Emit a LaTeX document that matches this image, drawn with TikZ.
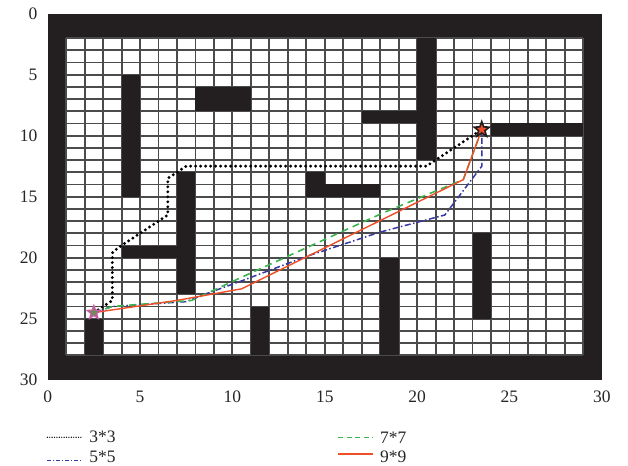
\documentclass[tikz,border=0pt]{standalone}
\usepackage{fontspec}
\setmainfont{Liberation Serif}
\usetikzlibrary{shapes.geometric}
\definecolor{mazeblack}{RGB}{35,31,32}
\definecolor{gridgray}{RGB}{75,75,75}
\definecolor{pathblue}{RGB}{55,55,165}
\definecolor{pathgreen}{RGB}{60,180,80}
\definecolor{pathred}{RGB}{240,80,40}
\definecolor{startpink}{RGB}{205,90,165}
\definecolor{startfill}{RGB}{110,140,90}
\tikzset{
  gridline/.style={draw=gridgray, line width=1.9pt},
  wall/.style={fill=mazeblack},
  ticklabel/.style={font=\fontsize{17.5}{20}\selectfont, inner sep=0pt, text=black!85},
  legtext/.style={font=\fontsize{17.5}{20}\selectfont, inner sep=0pt, anchor=west, text=black!85},
  pthree/.style={draw=black, line width=3.2pt, line cap=round, dash pattern=on 0pt off 5pt},
  pfive/.style={draw=pathblue, line width=1.5pt, dash pattern=on 6pt off 2.5pt on 1.5pt off 2.5pt},
  pseven/.style={draw=pathgreen, line width=1.6pt, dash pattern=on 7pt off 5pt},
  pnine/.style={draw=pathred, line width=1.4pt},
  lthree/.style={draw=black, line width=1.4pt, line cap=round, dash pattern=on 0pt off 2.4pt},
  lfive/.style={draw=pathblue, line width=0.9pt, dash pattern=on 4pt off 2pt on 1pt off 2pt},
  lseven/.style={draw=pathgreen, line width=0.9pt, dash pattern=on 5pt off 3.5pt},
  lnine/.style={draw=pathred, line width=1.8pt},
  marker/.style={star, star points=5, star point ratio=2.4, inner sep=0pt}
}
\begin{document}
\begin{tikzpicture}[x=18.47pt,y=-12.2pt]
\useasboundingbox (-2.583,-1.123) rectangle (31.418,37.07);
% frame and free area
\fill[wall] (0,0) rectangle (30,30);
\fill[white] (1,2) rectangle (29,28);
\foreach \i in {1,...,29} \draw[gridline] (\i,2) -- (\i,28);
\foreach \j in {2,...,28} \draw[gridline] (1,\j) -- (29,\j);
% obstacles
\foreach \xa/\ya/\xb/\yb in {4/5/5/15, 8/6/11/8, 7/13/8/23, 4/19/7/20, 2/25/3/28,
  11/24/12/28, 14/13/15/15, 15/14/18/15, 20/2/21/12, 17/8/20/9, 24/9/29/10,
  18/20/19/28, 23/18/24/25}
  \fill[wall] (\xa,\ya) rectangle (\xb,\yb);
% start and goal
\coordinate (start) at (2.5,24.5);
\coordinate (goal) at (23.5,9.5);
% paths
\draw[pfive] (start) -- (3.5,24.0) -- (7.5,23.6) -- (8.5,23.0) -- (10.5,21.9) -- (14,19.9)
  -- (18,17.9) -- (21.5,16.5) -- (23.5,12.5) -- (goal);
\draw[pseven] (start) -- (3.5,24.0) -- (7.8,23.5) -- (10.5,21.6) -- (18.2,16.3)
  -- (22.5,13.6) -- (goal);
\draw[pnine] (start) -- (7,23.5) -- (10.5,22.55) -- (22.5,13.6) -- (goal);
\draw[pthree] (start) -- (3.5,23.5) -- (3.5,19.6) -- (3.8,19.2) -- (6.5,16.5) -- (6.5,13.5)
  -- (7.5,12.5) -- (20.5,12.5) -- (goal);
\node[marker, minimum size=14pt, draw=startpink, fill=startfill, line width=1.3pt] (startmark) at (start) {};
\node[marker, minimum size=16pt, draw=mazeblack, fill=pathred, line width=1.6pt] (goalmark) at (goal) {};
% axis labels
\foreach \v in {0,5,...,30} \node[ticklabel, anchor=east] (yl\v) at (-0.55,\v) {\v};
\foreach \v in {0,5,...,30} \node[ticklabel] (xl\v) at (\v,31.42) {\v};
% legend
\coordinate (la1) at (-0.02,34.72); \coordinate (lb1) at (1.84,34.72);
\coordinate (la2) at (-0.02,36.58); \coordinate (lb2) at (1.84,36.58);
\coordinate (la3) at (15.73,34.72); \coordinate (lb3) at (17.63,34.72);
\coordinate (la4) at (15.73,36.11); \coordinate (lb4) at (17.63,36.11);
\draw[lthree] (la1) -- (lb1);
\draw[lfive] (la2) -- (lb2);
\draw[lseven] (la3) -- (lb3);
\draw[lnine] (la4) -- (lb4);
\node[legtext] (t1) at (2.25,34.72) {3*3};
\node[legtext] (t2) at (2.25,36.34) {5*5};
\node[legtext] (t3) at (17.99,34.72) {7*7};
\node[legtext] (t4) at (17.99,36.34) {9*9};
\end{tikzpicture}
\end{document}
